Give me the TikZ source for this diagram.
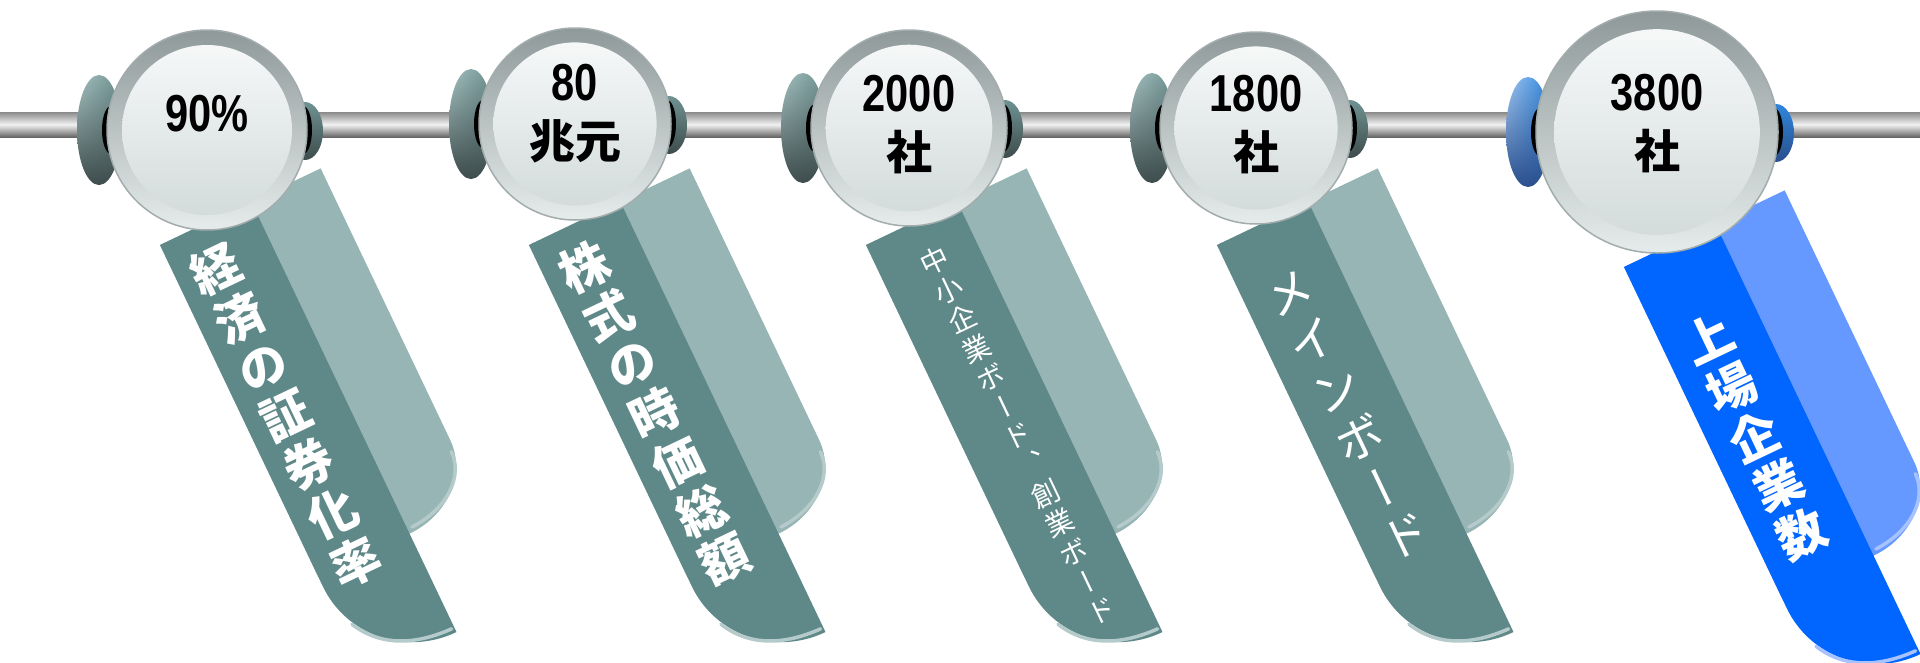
\documentclass[tikz,border=0pt]{standalone}
\usepackage{fontspec}
\usetikzlibrary{shadings}
\newfontfamily\jpfont{Noto Sans CJK JP}
\newfontfamily\jpvert[RawFeature=+vert]{Noto Sans CJK JP}
\newfontfamily\numfont[FakeStretch=0.8]{Liberation Sans}
\newcommand{\kj}[1]{{\jpfont\bfseries\fontsize{46}{58}\selectfont #1}}

\begin{document}
\begin{tikzpicture}[x=1pt,y=-1pt,
  rodbar/.style={top color=rodgray,bottom color=roddark,middle color=rodlight},
  ribtext/.style={text=white,align=center,font=\jpvert\bfseries\fontsize{49}{54}\selectfont},
  ribkana/.style={text=white,align=center,font=\jpvert\fontsize{48}{54}\selectfont},
  ribsmall/.style={text=white,align=center,font=\jpvert\fontsize{28}{32.3}\selectfont},
  numtext/.style={align=center,font=\numfont\bfseries\fontsize{52}{58}\selectfont},
  gleam/.style={line width=3.5pt,line cap=round}]
\definecolor{sage}{HTML}{5F8888}
\definecolor{mist}{HTML}{98B5B5}
\definecolor{pale}{HTML}{B5CACA}
\definecolor{ocean}{HTML}{0066FF}
\definecolor{sky}{HTML}{6699FF}
\definecolor{paleblue}{HTML}{A6C2FF}
\definecolor{knobhi}{HTML}{A7C2C2}
\definecolor{knoblo}{HTML}{3E4C4C}
\definecolor{knobmid}{HTML}{6F9292}
\definecolor{bluehi}{HTML}{A4C8F2}
\definecolor{bluelo}{HTML}{2B4F8C}
\definecolor{bluemid}{HTML}{2E86DC}
\definecolor{rimtop}{HTML}{8F9999}
\definecolor{rimbot}{HTML}{E6ECEC}
\definecolor{rimedge}{HTML}{A3ACAC}
\definecolor{discA}{HTML}{F6F8F8}
\definecolor{discB}{HTML}{D3DBDB}
\definecolor{rodgray}{HTML}{8A8A8A}
\definecolor{roddark}{HTML}{666666}
\definecolor{rodlight}{HTML}{F2F2F2}
\useasboundingbox (0,0) rectangle (1920,662);
\shade[rodbar] (0,112) rectangle (1920,137);
% ribbons
\foreach \px/\py/\dk/\lt/\hl/\txt/\tu/\tv/\tstyle [count=\i] in {
  160/245/sage/mist/pale/{経\\済\\の\\証\\券\\化\\率}/40/208/ribtext,
  529/245/sage/mist/pale/{株\\式\\の\\時\\価\\総\\額}/41/206/ribtext,
  866/245/sage/mist/pale/{中\\小\\企\\業\\ボ\\ー\\ド\\、\\創\\業\\ボ\\ー\\ド}/55/237/ribsmall,
  1217/245/sage/mist/pale/{メ\\イ\\ン\\ボ\\ー\\ド}/45/210/ribkana,
  1624/267/ocean/sky/paleblue/{上\\場\\企\\業\\数}/45/210/ribtext}
{
  \begin{scope}[shift={(\px,\py)},rotate=25.5]
    \fill[\lt] (0,0) -- (178,0) -- (178,301) .. controls (178,338) and (144,368) .. (101,368) -- (0,368) -- cycle;
    \draw[gleam,\hl] (174,312) .. controls (174,340) and (145,362) .. (106,363);
    \fill[\dk] (0,0) -- (101,0) -- (101,477) .. controls (45,477) and (0,433) .. (0,378) -- cycle;
    \draw[gleam,\hl] (10,425) .. controls (25,455) and (55,471) .. (98,472);
    \node[\tstyle,transform shape] (t\i) at (\tu,\tv) {\txt};
  \end{scope}
}
% beads on the rod
\foreach \cx/\cy/\r/\ka/\kb/\kc/\ty/\val [count=\i] in {
  207/130/100/knobhi/knoblo/knobmid/114/{90\%},
  575/124/96/knobhi/knoblo/knobmid/114/{80\\\kj{兆元}},
  909/128/98/knobhi/knoblo/knobmid/125/{2000\\\kj{社}},
  1256/128/96/knobhi/knoblo/knobmid/125/{1800\\\kj{社}},
  1657/132/121/bluehi/bluelo/bluemid/124/{3800\\\kj{社}}}
{
  \shade[upper left=\ka,lower right=\kb,upper right=\kc,lower left=\kb] (\cx-\r-8,\cy) ellipse [x radius=22,y radius=55];
  \shade[top color=\kc,bottom color=\kb] (\cx+\r-2,\cy+1) ellipse [x radius=18,y radius=29];
  \fill[black] (\cx-\r+4,\cy) ellipse [x radius=9,y radius=24];
  \fill[black] (\cx+\r-4,\cy) ellipse [x radius=9,y radius=24];
  \shade[top color=rimtop,bottom color=rimbot] (\cx,\cy) circle [radius=\r];
  \draw[rimedge,line width=1.5] (\cx,\cy) circle [radius=\r];
  \shade[top color=discA,bottom color=discB] (\cx,\cy) circle [radius=0.85*\r];
  \node[numtext] (v\i) at (\cx,\ty) {\val};
}
\end{tikzpicture}
\end{document}
